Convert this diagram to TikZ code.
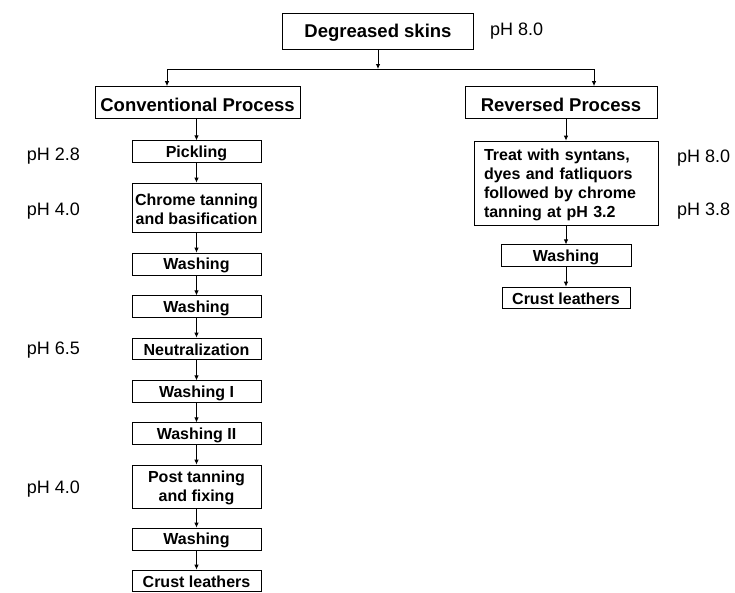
\documentclass[tikz,border=0pt]{standalone}
\usepackage{fontspec}
\setmainfont{Liberation Sans}
\usetikzlibrary{arrows.meta}
\newcommand\bxup{\rule{0pt}{15pt}}
\newcommand\hdup{\rule{0pt}{17.3pt}}
\tikzset{
  boxbase/.style={draw=black, line width=0.8pt, inner sep=1.5pt, align=center, font=\bfseries\fontsize{16}{19}\selectfont},
  smallbox/.style={boxbase, minimum width=129pt, minimum height=21pt},
  headbox/.style={boxbase, minimum height=32pt, font=\bfseries\fontsize{18.5}{22}\selectfont},
  phlabel/.style={font=\fontsize{18}{21}\selectfont, inner sep=0pt},
  conn/.style={line width=0.8pt, draw=black},
  arr/.style={conn, -{Latex[length=5pt,width=4.5pt]}}
}
\begin{document}
\begin{tikzpicture}[x=1pt,y=-1pt]
\useasboundingbox (0,0) rectangle (735,592);
% top
\node[headbox, minimum width=191pt, minimum height=36pt] (deg) at (378,31) {\hdup Degreased skins};
\node[phlabel, anchor=west] (ph0) at (490,31) {pH 8.0};
\coordinate (jc) at (378,69);
\coordinate (jl) at (167,69);
\coordinate (jr) at (594,69);
% headers
\node[headbox, minimum width=205pt] (conv) at (197.5,102.5) {\hdup Conventional Process};
\node[headbox, minimum width=192pt] (rev) at (561,102.5) {\hdup Reversed Process};
% left column
\node[smallbox] (pick) at (196.5,151.5) {\bxup Pickling};
\node[smallbox, minimum height=49pt] (chrome) at (196.5,207.5) {\bxup Chrome tanning\\and basification};
\node[smallbox, minimum height=22pt] (wa) at (196.5,264) {\bxup Washing};
\node[smallbox] (wb) at (196.5,306.5) {\bxup Washing};
\node[smallbox] (neut) at (196.5,348.5) {\bxup Neutralization};
\node[smallbox] (wi) at (196.5,391.5) {\bxup Washing I};
\node[smallbox] (wii) at (196.5,433.5) {\bxup Washing II};
\node[smallbox, minimum height=43pt] (post) at (196.5,486.5) {\bxup Post tanning\\and fixing};
\node[smallbox, minimum height=22pt] (wc) at (196.5,539) {\bxup Washing};
\node[smallbox] (crl) at (196.5,580.5) {\bxup Crust leathers};
% left pH labels
\node[phlabel, anchor=east] (ph1) at (80,156) {pH 2.8};
\node[phlabel, anchor=east] (ph2) at (80,211) {pH 4.0};
\node[phlabel, anchor=east] (ph3) at (80,350) {pH 6.5};
\node[phlabel, anchor=east] (ph4) at (80,489) {pH 4.0};
% right column
\node[boxbase, align=left, text width=164pt, inner xsep=10pt, minimum height=84pt] (treat) at (566,183) {\bxup Treat with syntans,\\dyes and fatliquors\\followed by chrome\\tanning at pH 3.2};
\node[smallbox, minimum width=130pt] (rw) at (566,255.5) {\bxup Washing};
\node[smallbox, minimum width=128pt] (rcr) at (566,297.5) {\bxup Crust leathers};
\node[phlabel, anchor=west] (ph5) at (677,158) {pH 8.0};
\node[phlabel, anchor=west] (ph6) at (677,211) {pH 3.8};
% connectors
\draw[arr] (deg.south) -- (jc);
\draw[conn] (jl) -- (jr);
\draw[arr] (jl) -- (jl |- conv.north);
\draw[arr] (jr) -- (jr |- rev.north);
\draw[arr] (conv.south -| pick.north) -- (pick.north);
\draw[arr] (pick) -- (chrome);
\draw[arr] (chrome) -- (wa);
\draw[arr] (wa) -- (wb);
\draw[arr] (wb) -- (neut);
\draw[arr] (neut) -- (wi);
\draw[arr] (wi) -- (wii);
\draw[arr] (wii) -- (post);
\draw[arr] (post) -- (wc);
\draw[arr] (wc) -- (crl);
\draw[arr] (rev.south -| treat.north) -- (treat.north);
\draw[arr] (treat.south) -- (treat.south |- rw.north);
\draw[arr] (treat.south |- rw.south) -- (treat.south |- rcr.north);
\end{tikzpicture}
\end{document}
